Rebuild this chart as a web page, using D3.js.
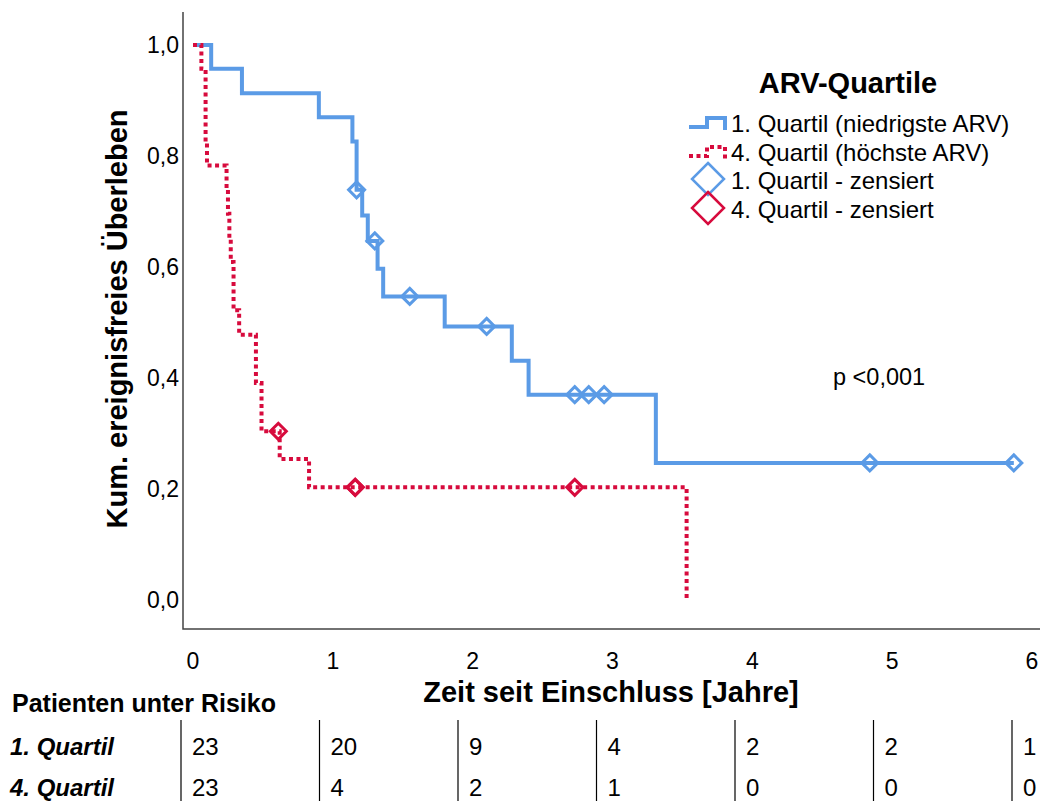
<!DOCTYPE html>
<html>
<head>
<meta charset="utf-8">
<script src="https://cdn.jsdelivr.net/npm/d3@7"></script>
<style>
  body { margin: 0; background: #fff; }
  svg { display: block; font-family: "Liberation Sans", Arial, sans-serif; }
</style>
</head>
<body>
<div id="chart"></div>
<script>
// Kaplan-Meier steps (time in years, survival)
const q1Times = [0, 0.13, 0.35, 0.90, 1.14, 1.17, 1.21, 1.25, 1.32, 1.36, 1.80, 2.28, 2.40, 3.31, 5.87];
const q1Surv  = [1.0, 0.957, 0.913, 0.870, 0.826, 0.739, 0.693, 0.647, 0.597, 0.547, 0.493, 0.431, 0.370, 0.247, 0.247];
const q1Censored = [1.17, 1.30, 1.55, 2.10, 2.73, 2.83, 2.94, 4.84, 5.87];

const q4Times = [0, 0.06, 0.09, 0.10, 0.24, 0.25, 0.26, 0.27, 0.29, 0.33, 0.45, 0.49, 0.62, 0.83, 3.53];
const q4Surv  = [1.0, 0.957, 0.826, 0.783, 0.739, 0.696, 0.652, 0.609, 0.522, 0.478, 0.391, 0.304, 0.254, 0.203, 0.0];
const q4Censored = [0.61, 1.16, 1.16, 2.73];

// risk table
const riskTimes = [0, 1, 2, 3, 4, 5, 6];
const q1Risk = [23, 20, 9, 4, 2, 2, 1];
const q4Risk = [23, 4, 2, 1, 0, 0, 0];

const xTicks = [0, 1, 2, 3, 4, 5, 6];
const yTicks = [0, 0.2, 0.4, 0.6, 0.8, 1.0];

const blue = '#5b9be6';
const red = '#d70b3d';

const W = 1040, H = 801;
const svg = d3.select('#chart').append('svg')
  .attr('width', W)
  .attr('height', H);

const x = d3.scaleLinear().domain([0, 6]).range([193, 1032]);
const y = d3.scaleLinear().domain([0, 1]).range([600, 45]);
// the risk table columns sit a little off the axis ticks
const xTable = d3.scaleLinear().domain([0, 6]).range([181, 1012]);

// frame (left + bottom axis lines)
svg.append('path')
  .attr('d', `M183,12 V629 H${W}`)
  .attr('fill', 'none')
  .attr('stroke', '#444')
  .attr('stroke-width', 1.5);

// y tick labels
svg.selectAll('.ytick')
  .data(yTicks)
  .enter()
  .append('text')
  .attr('x', 179)
  .attr('y', d => y(d))
  .attr('dy', '0.35em')
  .attr('text-anchor', 'end')
  .attr('font-size', 23)
  .text(d => d3.format('.1f')(d).replace('.', ','));

// x tick labels
svg.selectAll('.xtick')
  .data(xTicks)
  .enter()
  .append('text')
  .attr('x', d => x(d))
  .attr('y', 669)
  .attr('text-anchor', 'middle')
  .attr('font-size', 23)
  .text(d => d);

// axis titles
svg.append('text')
  .attr('transform', 'translate(127,319) rotate(-90)')
  .attr('text-anchor', 'middle')
  .attr('font-size', 29)
  .attr('font-weight', 'bold')
  .text('Kum. ereignisfreies Überleben');

svg.append('text')
  .attr('x', 611)
  .attr('y', 702)
  .attr('text-anchor', 'middle')
  .attr('font-size', 29)
  .attr('font-weight', 'bold')
  .text('Zeit seit Einschluss [Jahre]');

// step curves
const line = d3.line()
  .x(d => x(d[0]))
  .y(d => y(d[1]))
  .curve(d3.curveStepAfter);

svg.append('path')
  .datum(q1Times.map((t, i) => [t, q1Surv[i]]))
  .attr('d', line)
  .attr('fill', 'none')
  .attr('stroke', blue)
  .attr('stroke-width', 4);

svg.append('path')
  .datum(q4Times.map((t, i) => [t, q4Surv[i]]))
  .attr('d', line)
  .attr('fill', 'none')
  .attr('stroke', red)
  .attr('stroke-width', 4)
  .attr('stroke-dasharray', '4,3.5');

// censor marks
function survAt(times, surv, t) {
  let v = surv[0];
  times.forEach((tt, i) => { if (tt <= t) v = surv[i]; });
  return v;
}
function diamond(r) {
  return `M0,${-r} L${r},0 L0,${r} L${-r},0 Z`;
}

svg.selectAll('.c1')
  .data(q1Censored)
  .enter()
  .append('path')
  .attr('d', diamond(8))
  .attr('transform', d => `translate(${x(d)},${y(survAt(q1Times, q1Surv, d))})`)
  .attr('fill', 'none')
  .attr('stroke', blue)
  .attr('stroke-width', 3);

svg.selectAll('.c4')
  .data(q4Censored)
  .enter()
  .append('path')
  .attr('d', diamond(8))
  .attr('transform', d => `translate(${x(d)},${y(survAt(q4Times, q4Surv, d))})`)
  .attr('fill', 'none')
  .attr('stroke', red)
  .attr('stroke-width', 3);

// p value
svg.append('text')
  .attr('x', 833)
  .attr('y', 385)
  .attr('font-size', 23.5)
  .text('p <0,001');

// legend
const legend = svg.append('g');
legend.append('text')
  .attr('x', 848)
  .attr('y', 93)
  .attr('text-anchor', 'middle')
  .attr('font-size', 29)
  .attr('font-weight', 'bold')
  .text('ARV-Quartile');

legend.append('path')
  .attr('d', 'M689,127 H707 V118 H725 V130')
  .attr('fill', 'none')
  .attr('stroke', blue)
  .attr('stroke-width', 4);
legend.append('path')
  .attr('d', 'M689,156 H707 V147 H725 V159')
  .attr('fill', 'none')
  .attr('stroke', red)
  .attr('stroke-width', 4)
  .attr('stroke-dasharray', '4,3.5');
legend.append('path')
  .attr('d', diamond(16))
  .attr('transform', 'translate(708,179)')
  .attr('fill', 'none')
  .attr('stroke', blue)
  .attr('stroke-width', 2.5);
legend.append('path')
  .attr('d', diamond(16))
  .attr('transform', 'translate(708,208)')
  .attr('fill', 'none')
  .attr('stroke', red)
  .attr('stroke-width', 2.5);

const legendLabels = ['1. Quartil (niedrigste ARV)', '4. Quartil (höchste ARV)', '1. Quartil - zensiert', '4. Quartil - zensiert'];
legend.selectAll('.ll')
  .data(legendLabels)
  .enter()
  .append('text')
  .attr('x', 731)
  .attr('y', (d, i) => 132 + i * 28.5)
  .attr('font-size', 24)
  .text(d => d);

// risk table
svg.append('text')
  .attr('x', 12)
  .attr('y', 712)
  .attr('font-size', 25)
  .attr('font-weight', 'bold')
  .text('Patienten unter Risiko');

const rows = [
  { label: '1. Quartil', values: q1Risk, y: 755 },
  { label: '4. Quartil', values: q4Risk, y: 796 }
];

rows.forEach(r => {
  svg.append('text')
    .attr('x', 10)
    .attr('y', r.y)
    .attr('font-size', 24)
    .attr('font-weight', 'bold')
    .attr('font-style', 'italic')
    .text(r.label);

  svg.selectAll(null)
    .data(riskTimes)
    .enter()
    .append('text')
    .attr('x', d => xTable(d) + 11)
    .attr('y', r.y)
    .attr('font-size', 24)
    .text((d, i) => r.values[i]);
});

svg.selectAll('.sep')
  .data(riskTimes)
  .enter()
  .append('line')
  .attr('x1', d => xTable(d))
  .attr('x2', d => xTable(d))
  .attr('y1', 720)
  .attr('y2', H)
  .attr('stroke', '#000')
  .attr('stroke-width', 1.2);
</script>
</body>
</html>
